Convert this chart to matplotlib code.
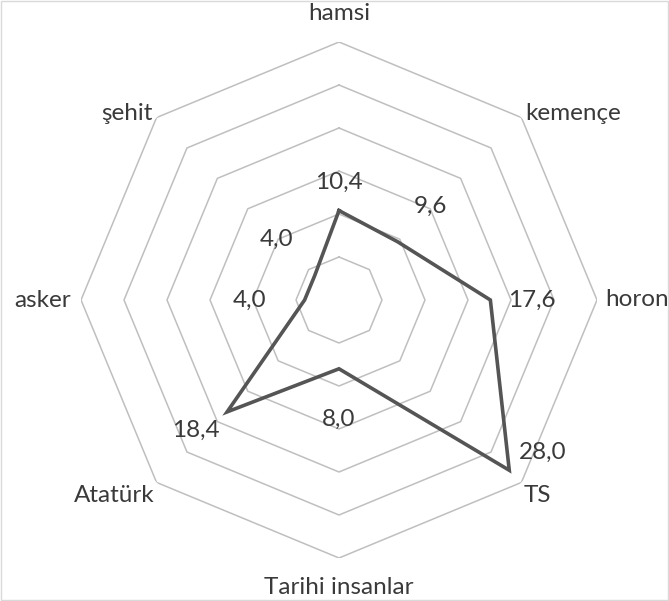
import numpy as np
import matplotlib
matplotlib.use("Agg")
import matplotlib.pyplot as plt
from matplotlib.patches import Rectangle

categories = ["hamsi", "kemençe", "horon", "TS", "Tarihi insanlar", "Atatürk", "asker", "şehit"]
values = [10.4, 9.6, 17.6, 28.0, 8.0, 18.4, 4.0, 4.0]
ring_levels = [5, 10, 15, 20, 25, 30]

plt.rcParams['font.family'] = ['Lato', 'DejaVu Sans']

fig = plt.figure(figsize=(6.69, 6.01), dpi=100)
fig.patches.append(Rectangle((0.002, 0.002), 0.996, 0.996, transform=fig.transFigure,
                             fill=False, edgecolor="#d9d9d9", linewidth=1))

W, H = 669, 601
cx, cy, R = 339, 301, 258
ax = fig.add_axes([(cx - R) / W, (cy - R) / H, 2 * R / W, 2 * R / H], projection='polar')
ax.set_theta_zero_location('N')
ax.set_theta_direction(-1)
ax.set_ylim(0, 30)
ax.axis('off')

n = len(categories)
theta = np.arange(n) * 2 * np.pi / n
theta_closed = np.append(theta, theta[0])

for lv in ring_levels:
    ax.plot(theta_closed, [lv] * (n + 1), color="#bfbfbf", lw=1.1, zorder=1)

vals_closed = values + [values[0]]
ax.plot(theta_closed, vals_closed, color="#555555", lw=2.6, zorder=3, solid_joinstyle='miter')

txt_color = "#3a3a3a"
fs = 17.5

# category labels: (radius, ha, va)
cat_pos = [
    (33.3, 'center', 'center'),
    (30.6, 'left', 'center'),
    (31.0, 'left', 'center'),
    (30.4, 'left', 'top'),
    (33.4, 'center', 'center'),
    (30.4, 'right', 'top'),
    (31.2, 'right', 'center'),
    (30.6, 'right', 'center'),
]
for t, c, (r, ha, va) in zip(theta, categories, cat_pos):
    ax.text(t, r, c, ha=ha, va=va, fontsize=fs, color=txt_color, clip_on=False)

# data label offsets in pixels (dx, dy)
offsets = [(0, 28), (33, 35), (41, 0), (33, 18), (0, -51), (-31, -18), (-55, 0), (-38, 36)]
for t, v, (dx, dy) in zip(theta, values, offsets):
    ax.annotate(f"{v:.1f}".replace('.', ','), xy=(t, v), xytext=(dx, dy),
                textcoords='offset pixels', ha='center', va='center',
                fontsize=fs, color=txt_color, annotation_clip=False)

fig.savefig("out.png", dpi=100)
